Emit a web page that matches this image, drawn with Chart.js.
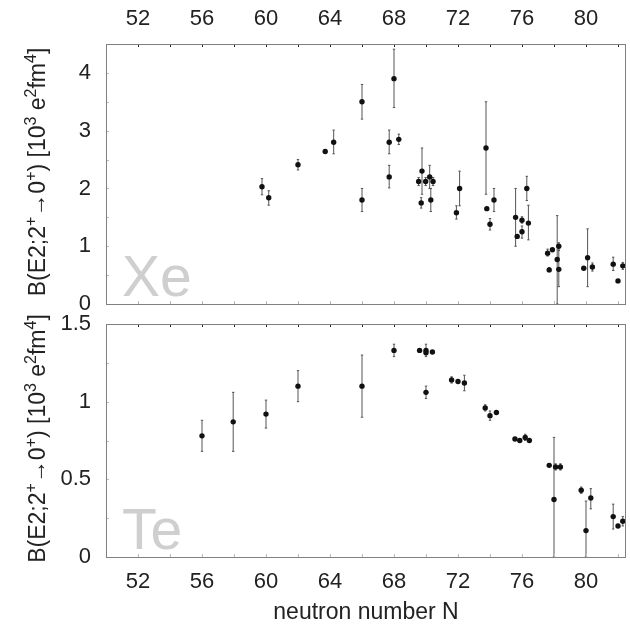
<!DOCTYPE html>
<html>
<head>
<meta charset="utf-8">
<script src="https://cdn.jsdelivr.net/npm/chart.js@4.4.1/dist/chart.umd.min.js"></script>
<style>
  html, body { margin: 0; padding: 0; background: #fff; }
  #wrap { position: relative; width: 630px; height: 628px; }
  #wrap canvas { position: absolute; left: 0; top: 0; }
</style>
</head>
<body>
<div id="wrap">
  <canvas id="xeChart" width="630" height="628"></canvas>
  <canvas id="teChart" width="630" height="628"></canvas>
</div>
<script>
// B(E2) values: neutron number, value, error bar low/high (null = no bar)
const xeN  = [59.75, 60.17, 62.0, 63.7, 64.23, 66.0, 66.0, 68.0, 67.7, 67.7, 68.3, 69.54, 69.75, 69.98, 70.23, 70.44, 69.7, 70.3,
              71.9, 72.1, 73.75, 73.8, 74.0, 74.25, 75.6, 75.7, 76.0, 76.0, 76.3, 76.4, 77.6, 77.7, 77.9, 78.2, 78.3, 78.3,
              79.86, 80.1, 80.4, 81.7, 82.0, 82.3];
const xeB  = [2.03, 1.84, 2.41, 2.64, 2.80, 3.50, 1.80, 3.90, 2.80, 2.20, 2.85, 2.12, 2.30, 2.12, 2.20, 2.12, 1.75, 1.80,
              1.58, 2.00, 2.70, 1.65, 1.38, 1.80, 1.50, 1.17, 1.45, 1.25, 2.00, 1.40, 0.88, 0.59, 0.94, 0.77, 1.00, 0.60,
              0.62, 0.80, 0.64, 0.69, 0.40, 0.66];
const xeLo = [1.89, 1.71, 2.32, null, 2.60, 3.20, 1.60, 3.40, 2.60, 2.01, 2.76, 2.05, 1.90, 2.05, 2.00, 2.05, 1.66, 1.60,
              1.47, 1.70, 1.90, null, 1.28, 1.60, 1.00, null, 1.40, 1.14, 1.79, 1.11, 0.83, 0.56, null, 0.00, 0.93, 0.30,
              null, 0.30, 0.57, 0.58, null, 0.60];
const xeHi = [2.17, 1.96, 2.50, null, 3.01, 3.80, 2.00, 4.41, 3.01, 2.40, 2.94, 2.19, 2.70, 2.19, 2.40, 2.19, 1.84, 2.00,
              1.70, 2.30, 3.50, null, 1.48, 2.00, 2.00, null, 1.51, 1.35, 2.21, 1.71, 0.95, 0.63, null, 1.53, 1.06, 0.93,
              null, 1.30, 0.71, 0.81, null, 0.72];

const teN  = [56.0, 57.95, 60.0, 62.0, 66.0, 68.0, 69.6, 70.0, 70.0, 70.4, 70.0, 71.6, 72.0, 72.4, 73.7, 74.0, 74.4,
              75.56, 75.86, 76.2, 76.46, 77.7, 78.1, 78.4, 78.0, 79.7, 80.3, 80.0, 81.7, 82.0, 82.3];
const teB  = [0.78, 0.87, 0.92, 1.10, 1.10, 1.33, 1.33, 1.33, 1.315, 1.32, 1.06, 1.14, 1.13, 1.12, 0.96, 0.91, 0.93,
              0.76, 0.75, 0.77, 0.75, 0.59, 0.58, 0.58, 0.37, 0.43, 0.38, 0.17, 0.26, 0.20, 0.23];
const teLo = [0.68, 0.68, 0.83, 1.00, 0.90, 1.29, null, 1.29, null, null, 1.02, 1.12, null, 1.07, 0.94, 0.88, null,
              null, null, 0.75, null, null, 0.56, 0.56, 0.00, 0.41, 0.31, 0.00, 0.18, null, 0.20];
const teHi = [0.88, 1.06, 1.01, 1.20, 1.30, 1.37, null, 1.37, null, null, 1.10, 1.16, null, 1.17, 0.98, 0.94, null,
              null, null, 0.79, null, null, 0.60, 0.60, 0.77, 0.45, 0.44, 0.36, 0.34, null, 0.26];

const xTicks  = [52, 56, 60, 64, 68, 72, 76, 80];
const xeTicks = [0, 1, 2, 3, 4];
const teTicks = [0, 0.5, 1, 1.5];

const FONT = "'Liberation Sans', Arial, sans-serif";
const yLabelParts = [['B(E2;2', 0], ['+', 1], ['\u2192', 0], ['0', 0], ['+', 1], [') [10', 0], ['3', 1],
                     [' e', 0], ['2', 1], ['fm', 0], ['4', 1], [']', 0]];

function points(xs, ys) {
  return xs.map((x, i) => ({ x, y: ys[i] }));
}

// error bars, frame, inward ticks, element name and rotated y label
const decor = {
  id: 'decor',
  beforeDatasetsDraw(chart) {
    const { ctx, scales: { x, y } } = chart;
    const ds = chart.data.datasets[0];
    ctx.save();
    ctx.strokeStyle = '#555';
    ctx.lineWidth = 1;
    ds.data.forEach((p, i) => {
      if (ds.errLo[i] == null) return;
      const px = x.getPixelForValue(p.x);
      const y1 = y.getPixelForValue(ds.errLo[i]);
      const y2 = y.getPixelForValue(ds.errHi[i]);
      ctx.beginPath();
      ctx.moveTo(px, y1); ctx.lineTo(px, y2);
      ctx.moveTo(px - 1.2, y1); ctx.lineTo(px + 1.2, y1);
      ctx.moveTo(px - 1.2, y2); ctx.lineTo(px + 1.2, y2);
      ctx.stroke();
    });
    ctx.restore();
  },
  afterDraw(chart, args, opts) {
    const { ctx, chartArea: a, scales: { x, y } } = chart;
    ctx.save();
    // minor/major ticks
    ctx.lineWidth = 1;
    for (let n = 52; n <= 82; n += 2) {
      const px = Math.round(x.getPixelForValue(n)) + 0.5;
      ctx.strokeStyle = '#222';
      ctx.beginPath(); ctx.moveTo(px, a.top); ctx.lineTo(px, a.top + 3); ctx.stroke();
      ctx.strokeStyle = '#bbb';
      ctx.beginPath(); ctx.moveTo(px, a.bottom); ctx.lineTo(px, a.bottom - 3); ctx.stroke();
    }
    ctx.strokeStyle = '#bbb';
    for (let v = opts.yStep; v < y.max; v += opts.yStep) {
      const py = Math.round(y.getPixelForValue(v)) + 0.5;
      ctx.beginPath(); ctx.moveTo(a.left, py); ctx.lineTo(a.left + 3, py); ctx.stroke();
    }
    // frame
    ctx.strokeStyle = '#808080';
    ctx.strokeRect(Math.round(a.left) + 0.5, Math.round(a.top) + 0.5,
                   Math.round(a.right - a.left) - 1, Math.round(a.bottom - a.top));
    // element name
    ctx.fillStyle = '#cfcfcf';
    ctx.font = '57px ' + FONT;
    ctx.textBaseline = 'alphabetic';
    ctx.fillText(opts.name, a.left + 16, a.bottom - 8);
    // y label with superscripts
    ctx.translate(37, (a.top + a.bottom) / 2 - 2);
    ctx.rotate(-Math.PI / 2);
    ctx.fillStyle = '#222';
    const mainFont = '23px ' + FONT, supFont = '16px ' + FONT;
    let w = 0;
    for (const [t, s] of yLabelParts) { ctx.font = s ? supFont : mainFont; w += ctx.measureText(t).width; }
    let tx = -w / 2;
    for (const [t, s] of yLabelParts) {
      ctx.font = s ? supFont : mainFont;
      ctx.fillText(t, tx, s ? -1 : 8);
      tx += ctx.measureText(t).width;
    }
    ctx.restore();
  }
};

function makeChart(id, label, xs, ys, lo, hi, yMax, yTicks, top) {
  return new Chart(document.getElementById(id), {
    type: 'scatter',
    data: {
      datasets: [{
        label, data: points(xs, ys), errLo: lo, errHi: hi,
        backgroundColor: '#111', borderColor: '#111', pointRadius: 2.7, borderWidth: 0
      }]
    },
    options: {
      responsive: false, animation: false, clip: false,
      layout: { padding: top ? { left: 0, right: 4, top: 0, bottom: 324 } : { left: 0, right: 4, top: 324, bottom: 0 } },
      plugins: { legend: { display: false }, tooltip: { enabled: false },
                 decor: { name: label, yStep: top ? 0.5 : 0.25 } },
      scales: {
        x: {
          type: 'linear', position: top ? 'top' : 'bottom', min: 50, max: 82.5,
          afterBuildTicks: s => { s.ticks = xTicks.map(v => ({ value: v })); },
          afterFit: s => { s.height = top ? 44 : 71; },
          grid: { display: false, drawTicks: false }, border: { display: false },
          ticks: { font: { family: FONT, size: 22 }, color: '#222', padding: top ? 12 : 12, maxRotation: 0 },
          title: { display: !top, text: 'neutron number N', color: '#222',
                   font: { family: FONT, size: 23 }, padding: { top: 0, bottom: 2 } }
        },
        y: {
          type: 'linear', min: 0, max: yMax,
          afterBuildTicks: s => { s.ticks = yTicks.map(v => ({ value: v })); },
          afterFit: s => { s.width = 106; },
          grid: { display: false, drawTicks: false }, border: { display: false },
          ticks: { font: { family: FONT, size: 22 }, color: '#222', padding: 15, callback: v => String(v) }
        }
      }
    },
    plugins: [decor]
  });
}

makeChart('xeChart', 'Xe', xeN, xeB, xeLo, xeHi, 4.5, xeTicks, true);
makeChart('teChart', 'Te', teN, teB, teLo, teHi, 1.5, teTicks, false);
</script>
</body>
</html>
